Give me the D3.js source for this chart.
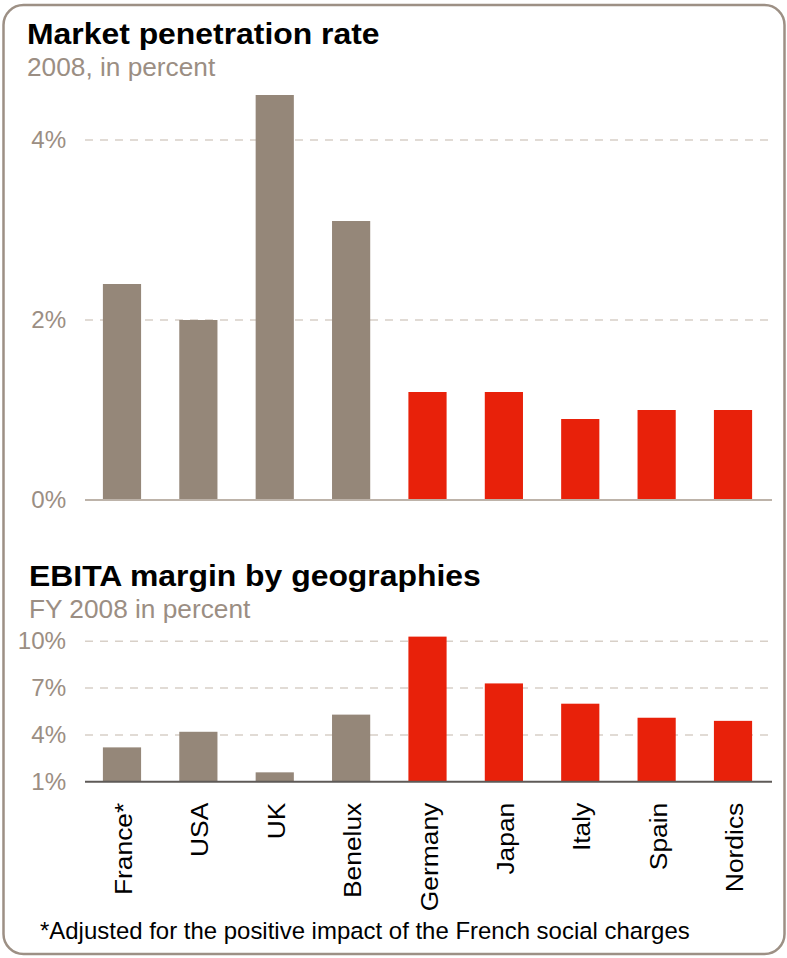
<!DOCTYPE html>
<html>
<head>
  <meta charset="utf-8">
  <title>Market penetration and EBITA margin</title>
  <script src="https://d3js.org/d3.v7.min.js"></script>
  <style>
    body { margin: 0; background: #fff; }
    text { font-family: "Liberation Sans", Arial, sans-serif; }
  </style>
</head>
<body>
  <script>
    // data
    var countries = ['France*', 'USA', 'UK', 'Benelux', 'Germany', 'Japan', 'Italy', 'Spain', 'Nordics'];
    var penetration = [2.4, 2.0, 4.5, 3.1, 1.2, 1.2, 0.9, 1.0, 1.0];
    var ebitaMargin = [3.2, 4.2, 1.6, 5.3, 10.3, 7.3, 6.0, 5.1, 4.9];
    var redCountries = ['Germany', 'Japan', 'Italy', 'Spain', 'Nordics'];
    var penetrationTicks = [0, 2, 4];
    var ebitaTicks = [1, 4, 7, 10];

    var W = 787, H = 958;
    var grey = '#958779', red = '#e8210a', muted = '#9b8e83';
    // the original font runs a bit wider than Liberation Sans
    var wide = 1.1;

    var svg = d3.select('body').append('svg')
      .attr('width', W)
      .attr('height', H);

    // rounded frame
    svg.append('rect')
      .attr('x', 3.5).attr('y', 5)
      .attr('width', 781).attr('height', 949)
      .attr('rx', 20).attr('ry', 20)
      .attr('fill', 'none')
      .attr('stroke', '#9d9085')
      .attr('stroke-width', 2.5);

    var x = d3.scaleBand()
      .domain(countries)
      .range([83.8, 771.2])
      .paddingInner(0.5)
      .paddingOuter(0.25);

    function barColor(d) {
      return redCountries.indexOf(d) >= 0 ? red : grey;
    }

    function label(px, py, size, sx, txt) {
      return svg.append('text')
        .attr('transform', 'translate(' + px + ',' + py + ') scale(' + sx + ',1)')
        .attr('font-size', size)
        .text(txt);
    }

    function panel(opts) {
      var g = svg.append('g');

      label(opts.titleX, opts.titleY, 29, wide, opts.title)
        .attr('font-weight', 'bold')
        .attr('fill', '#000');

      label(opts.titleX, opts.titleY + 32, 25, 1.05, opts.subtitle)
        .attr('fill', muted);

      var y = d3.scaleLinear().domain(opts.domain).range(opts.range);

      // dashed gridlines (not on the baseline)
      g.selectAll('line.grid')
        .data(opts.ticks.slice(1))
        .enter().append('line')
        .attr('class', 'grid')
        .attr('x1', 85).attr('x2', 770)
        .attr('y1', function(d) { return y(d); })
        .attr('y2', function(d) { return y(d); })
        .attr('stroke', '#d8d0c8')
        .attr('stroke-width', 1.5)
        .attr('stroke-dasharray', '8,7');

      var yAxis = g.append('g')
        .attr('transform', 'translate(85,0)')
        .call(d3.axisLeft(y).tickValues(opts.ticks).tickSize(0).tickPadding(18)
          .tickFormat(function(d) { return d + '%'; }));
      yAxis.select('.domain').remove();
      yAxis.selectAll('text')
        .attr('font-size', 23)
        .attr('font-family', '"Liberation Sans", Arial, sans-serif')
        .attr('fill', muted)
        .attr('transform', 'scale(1.05,1)');

      g.selectAll('rect.bar')
        .data(opts.values)
        .enter().append('rect')
        .attr('class', 'bar')
        .attr('x', function(d, i) { return x(countries[i]); })
        .attr('width', x.bandwidth())
        .attr('y', function(d) { return y(d); })
        .attr('height', function(d) { return y(opts.domain[0]) - y(d); })
        .attr('fill', function(d, i) { return barColor(countries[i]); });

      g.append('line')
        .attr('x1', 85).attr('x2', 772)
        .attr('y1', y(opts.domain[0])).attr('y2', y(opts.domain[0]))
        .attr('stroke', opts.baseColor)
        .attr('stroke-width', 2);

      return y;
    }

    panel({
      title: 'Market penetration rate',
      subtitle: '2008, in percent',
      titleX: 27, titleY: 44,
      values: penetration,
      domain: [0, 4], range: [500, 140],
      ticks: penetrationTicks,
      baseColor: '#bdb3a9'
    });

    var yB = panel({
      title: 'EBITA margin by geographies',
      subtitle: 'FY 2008 in percent',
      titleX: 29, titleY: 586,
      values: ebitaMargin,
      domain: [1, 10], range: [781.7, 641.3],
      ticks: ebitaTicks,
      baseColor: '#5e5a57'
    });

    // rotated country labels under the lower chart
    var xAxis = svg.append('g')
      .attr('transform', 'translate(0,' + yB(1) + ')')
      .call(d3.axisBottom(x).tickSize(0).tickPadding(0));
    xAxis.select('.domain').remove();
    xAxis.selectAll('text')
      .attr('font-size', 24)
      .attr('font-family', '"Liberation Sans", Arial, sans-serif')
      .attr('fill', '#000')
      .attr('text-anchor', 'end')
      .attr('dy', null)
      .attr('y', 0)
      .attr('transform', 'translate(10,21) rotate(-90) scale(' + wide + ',1)');

    label(40, 939, 23.5, 1.02, '*Adjusted for the positive impact of the French social charges')
      .attr('fill', '#000');
  </script>
</body>
</html>
